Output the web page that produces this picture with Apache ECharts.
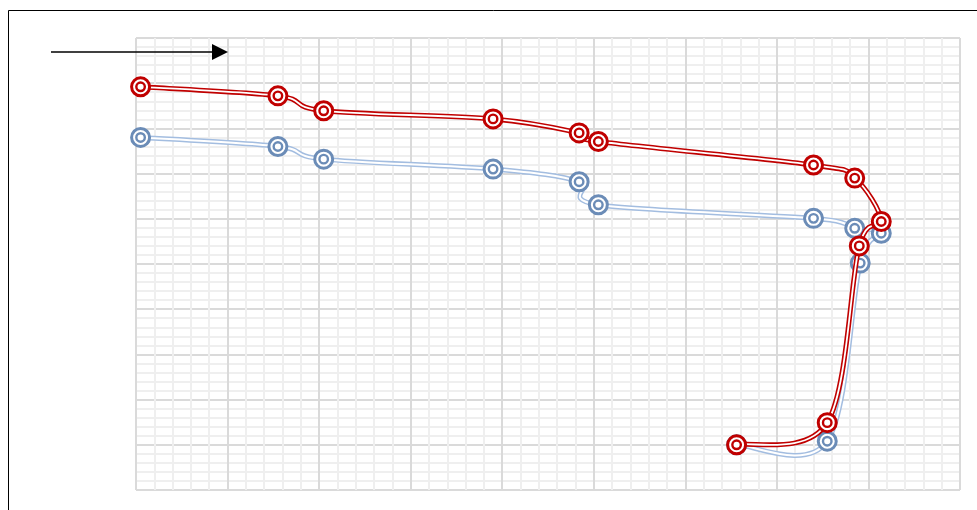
<!DOCTYPE html>
<html>
<head>
<meta charset="utf-8">
<script src="https://cdn.jsdelivr.net/npm/echarts@6/dist/echarts.min.js"></script>
<style>html,body{margin:0;padding:0;background:#fff;}#c{width:977px;height:510px;}</style>
</head>
<body>
<div id="c"></div>
<script>
// Data
var redX  = [0.5, 15.5, 20.5, 39.0, 48.4, 50.5, 74.0, 78.5, 81.4, 79.0, 75.5, 65.6];
var redY  = [89.2, 87.2, 83.9, 82.1, 79.0, 77.1, 71.9, 69.0, 59.4, 54.0, 14.9, 10.0];
var blueX = [0.5, 15.5, 20.5, 39.0, 48.4, 50.5, 74.0, 78.5, 81.4, 79.1, 75.5, 65.6];
var blueY = [78.0, 76.0, 73.2, 71.0, 68.2, 63.1, 60.1, 57.9, 56.8, 50.2, 10.8, 10.0];

function pts(xs, ys) { return xs.map(function (x, i) { return [x, ys[i]]; }); }

var RED = '#c00000', BLUE_LINE = '#a3bde0', BLUE_MARK = '#6b8cb7';

// smooth curve (Catmull-Rom style Bezier) through the points, positioned via the axes
function curveS(xs, ys, color, width, z) {
  var n = xs.length;
  return {
    type: 'custom', z: z, silent: true, animation: false, clip: false,
    data: pts(xs, ys), encode: { x: 0, y: 1 },
    renderItem: function (params, api) {
      var i = params.dataIndex;
      if (i >= n - 1) return null;
      function P(k) { k = Math.max(0, Math.min(n - 1, k)); return api.coord([xs[k], ys[k]]); }
      var p0 = P(i - 1), p1 = P(i), p2 = P(i + 1), p3 = P(i + 2);
      return {
        type: 'bezierCurve',
        shape: {
          x1: p1[0], y1: p1[1], x2: p2[0], y2: p2[1],
          cpx1: p1[0] + (p2[0] - p0[0]) / 6, cpy1: p1[1] + (p2[1] - p0[1]) / 6,
          cpx2: p2[0] - (p3[0] - p1[0]) / 6, cpy2: p2[1] - (p3[1] - p1[1]) / 6
        },
        style: { fill: 'none', stroke: color, lineWidth: width, lineCap: 'round' }
      };
    }
  };
}
function markS(xs, ys, color, size, bw, z) {
  return { type: 'scatter', data: pts(xs, ys), symbol: 'circle', symbolSize: size, z: z,
    itemStyle: { color: '#ffffff', borderColor: color, borderWidth: bw, opacity: 1 }, silent: true, animation: false };
}

var chart = echarts.init(document.getElementById('c'), null, { renderer: 'canvas' });
chart.setOption({
  animation: false,
  backgroundColor: '#ffffff',
  grid: { left: 136, right: 17, top: 38, bottom: 20, containLabel: false },
  xAxis: {
    type: 'value', min: 0, max: 90, interval: 10,
    axisLine: { show: false }, axisTick: { show: false }, axisLabel: { show: false },
    splitLine: { show: true, lineStyle: { color: '#dadada', width: 2 } },
    minorTick: { show: false, splitNumber: 5 },
    minorSplitLine: { show: true, lineStyle: { color: '#efefef', width: 2 } }
  },
  yAxis: {
    type: 'value', min: 0, max: 100, interval: 10,
    axisLine: { show: false }, axisTick: { show: false }, axisLabel: { show: false },
    splitLine: { show: true, lineStyle: { color: '#dadada', width: 2 } },
    minorTick: { show: false, splitNumber: 5 },
    minorSplitLine: { show: true, lineStyle: { color: '#efefef', width: 2 } }
  },
  graphic: [
    { type: 'rect', z: 100, shape: { x: 8.5, y: 10.5, width: 1000, height: 600 },
      style: { fill: 'none', stroke: '#000000', lineWidth: 1 }, silent: true },
    { type: 'line', z: 100, shape: { x1: 51, y1: 52, x2: 214, y2: 52 },
      style: { stroke: '#000000', lineWidth: 1.3 }, silent: true },
    { type: 'polygon', z: 100, shape: { points: [[212, 44], [228, 52], [212, 60]] },
      style: { fill: '#000000' }, silent: true }
  ],
  series: [
    curveS(blueX, blueY, BLUE_LINE, 5, 2),
    curveS(blueX, blueY, '#ffffff', 2, 3),
    markS(blueX, blueY, BLUE_MARK, 18, 3, 4),
    markS(blueX, blueY, BLUE_MARK, 8.5, 2.4, 5),
    curveS(redX, redY, RED, 5, 6),
    curveS(redX, redY, '#ffffff', 1.8, 7),
    markS(redX, redY, RED, 18, 3, 8),
    markS(redX, redY, RED, 8.5, 2.4, 9)
  ]
});
</script>
</body>
</html>
